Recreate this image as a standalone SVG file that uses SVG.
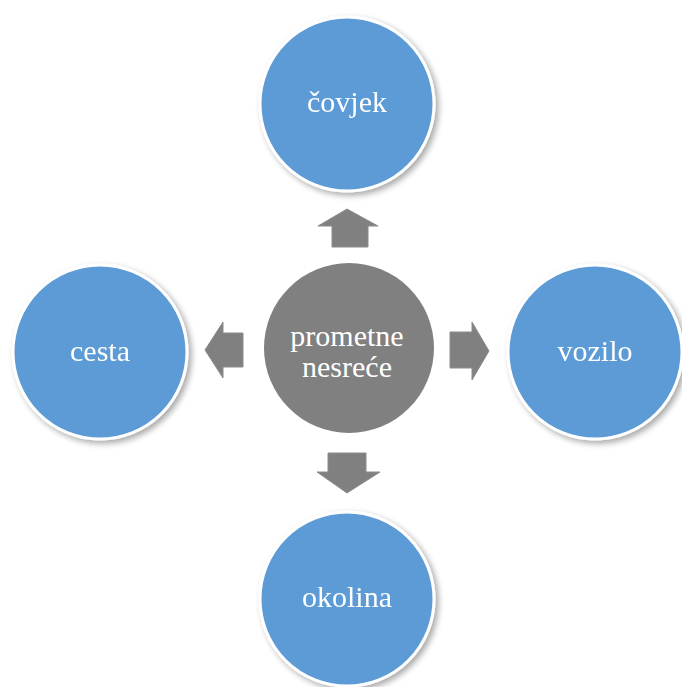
<svg xmlns="http://www.w3.org/2000/svg" width="682" height="687" viewBox="0 0 682 687">
<defs>
<filter id="sh" x="-20%" y="-20%" width="140%" height="140%">
<feGaussianBlur in="SourceAlpha" stdDeviation="3"/>
<feOffset dx="3" dy="3" result="b"/>
<feComponentTransfer><feFuncA type="linear" slope="0.35"/></feComponentTransfer>
<feMerge><feMergeNode/><feMergeNode in="SourceGraphic"/></feMerge>
</filter>
</defs>
<style>
.sat{fill:#5b9bd5;stroke:#ffffff;stroke-width:3}
.hub{fill:#808080}
.lbl{font-family:"Liberation Serif","Times New Roman",serif;font-size:30px;fill:#ffffff;text-anchor:middle}
.arr{fill:#808080;stroke:#8c8c8c;stroke-width:1}
</style>
<rect width="682" height="687" fill="#ffffff"/>
<g id="connectors">
<polygon class="arr" points="347,209 378,226 368,226 368,247 332,247 332,226 318,226"/>
<polygon class="arr" points="205,350 223,322 223,333 243,333 243,367 223,367 223,378"/>
<polygon class="arr" points="489,351 472,322 472,332 450,332 450,368 472,368 472,380"/>
<polygon class="arr" points="347,493 380,472 366,472 366,453 328,453 328,472 317,472"/>
</g>
<g id="hub">
<circle class="hub" cx="349" cy="348" r="85"/>
<text class="lbl" x="347" y="346">prometne</text>
<text class="lbl" x="347" y="377">nesreće</text>
</g>
<g id="covjek" filter="url(#sh)">
<circle class="sat" cx="347" cy="104" r="87"/>
<text class="lbl" x="347" y="112">čovjek</text>
</g>
<g id="cesta" filter="url(#sh)">
<circle class="sat" cx="100" cy="352" r="87"/>
<text class="lbl" x="100" y="361">cesta</text>
</g>
<g id="vozilo" filter="url(#sh)">
<circle class="sat" cx="595" cy="352" r="87"/>
<text class="lbl" x="595" y="361">vozilo</text>
</g>
<g id="okolina" filter="url(#sh)">
<circle class="sat" cx="347" cy="599" r="87"/>
<text class="lbl" x="347" y="607">okolina</text>
</g>
</svg>
